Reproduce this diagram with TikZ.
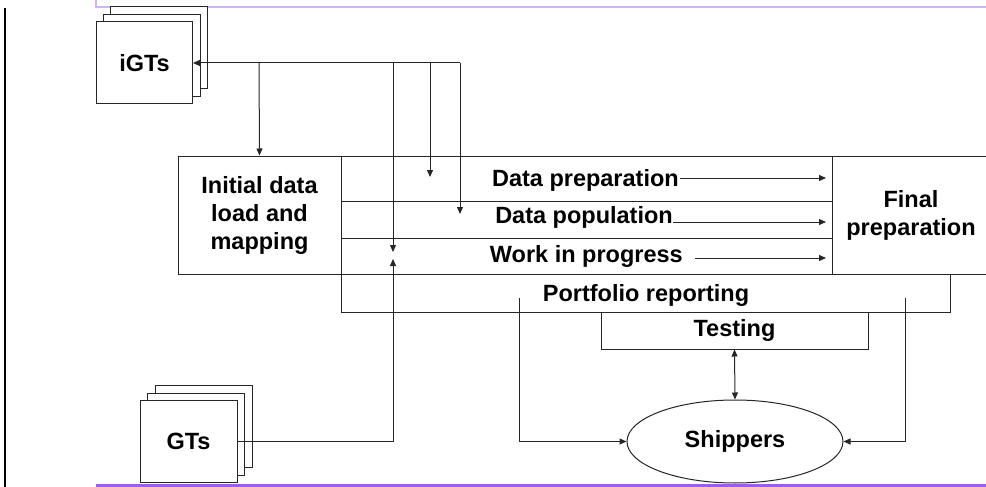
\documentclass[tikz,border=0pt]{standalone}
\usepackage{fontspec}
\setmainfont{Liberation Sans}
\usetikzlibrary{arrows.meta,shapes.geometric}
\definecolor{lav}{HTML}{D2B4F5}
\definecolor{purp}{HTML}{9B5CF0}
\begin{document}
\begin{tikzpicture}[x=1pt,y=-1pt,
  line/.style={draw=black!85,line width=1pt},
  box/.style={line,rectangle,inner sep=0pt,fill=none},
  lbl/.style={font=\bfseries\fontsize{23.5}{28}\selectfont,inner sep=0pt,align=center,text=black},
  arr/.style={line,-{Triangle[length=7pt,width=6pt]}},
  darr/.style={line,{Triangle[length=7pt,width=6pt]}-{Triangle[length=7pt,width=6pt]}}]
\useasboundingbox (0,0) rectangle (986,487);
% page decorations
\draw[black,line width=2.5pt] (5,8) -- (5,487);
\draw[lav,line width=1.5pt] (96,0) -- (96,7) -- (986,7);
\draw[purp,line width=3pt] (96,485) -- (986,485);
% iGTs stack
\node[box,fill=white,minimum width=97pt,minimum height=82pt] (igt3) at (158.5,48) {};
\node[box,fill=white,minimum width=97pt,minimum height=82pt] (igt2) at (151.5,55.5) {};
\node[box,fill=white,lbl,minimum width=96pt,minimum height=82pt] (igt1) at (144.5,63) {iGTs};
% GTs stack
\node[box,fill=white,minimum width=97pt,minimum height=82pt] (gt3) at (203.5,426.5) {};
\node[box,fill=white,minimum width=97pt,minimum height=82pt] (gt2) at (196,434.5) {};
\node[box,fill=white,lbl,minimum width=97pt,minimum height=82pt] (gt1) at (188.5,441) {GTs};
% main blocks
\node[box,minimum width=609pt,minimum height=156pt] (port) at (645.5,234) {};
\node[lbl] (porttext) at (646,295) {Portfolio reporting};
\node[box,minimum width=491pt,minimum height=45pt] (rowdp) at (586.5,178.5) {};
\node[box,minimum width=491pt,minimum height=37pt] (rowpop) at (586.5,219.5) {};
\node[box,minimum width=491pt,minimum height=36pt] (rowwip) at (586.5,256) {};
\node[box,lbl,minimum width=163pt,minimum height=118pt] (init) at (259.5,215) {Initial data\\load and\\mapping};
\node[box,lbl,fill=white,minimum width=158pt,minimum height=118pt] (final) at (911,215) {Final\\preparation};
\node[box,lbl,minimum width=267pt,minimum height=37pt] (test) at (734.5,330.5) {Testing};
\node[line,ellipse,lbl,minimum width=216pt,minimum height=83pt] (ship) at (735,441.5) {Shippers};
% row texts
\node[lbl,anchor=east] (dptext) at (679,180) {Data preparation};
\node[lbl,anchor=east] (poptext) at (673,217) {Data population};
\node[lbl,anchor=east] (wiptext) at (683,256) {Work in progress};
% coordinates
\coordinate (dpend) at (826,178);
\coordinate (popend) at (826,222);
\coordinate (wipend) at (826,258);
\coordinate (ja) at (259,63);
\coordinate (jb) at (393,63);
\coordinate (jc) at (430,63);
\coordinate (jd) at (460,63);
\coordinate (tb) at (393,252);
\coordinate (tc) at (430,177);
\coordinate (td) at (460,214);
\coordinate (gtc) at (393,441);
\coordinate (gtend) at (393,259);
\coordinate (pl) at (519,298);
\coordinate (plc) at (519,441.5);
\coordinate (pr) at (905,298);
\coordinate (prc) at (905,441.5);
% connectors
\draw[arr] (dptext.east) ++(1,-2) -- (dpend);
\draw[arr] (poptext.east) ++(0,5) -- (popend);
\draw[arr] (wiptext.east) ++(12,2) -- (wipend);
\draw[arr] (jd) -- (igt1.east);
\draw[arr] (ja) -- (init.north);
\draw[arr] (jb) -- (tb);
\draw[arr] (jc) -- (tc);
\draw[arr] (jd) -- (td);
\draw[arr] (gt1.east) -- (gtc) -- (gtend);
\draw[arr] (pl) -- (plc) -- (ship.west);
\draw[arr] (pr) -- (prc) -- (ship.east);
\draw[darr] (test.south) -- (ship.north);
\end{tikzpicture}
\end{document}
